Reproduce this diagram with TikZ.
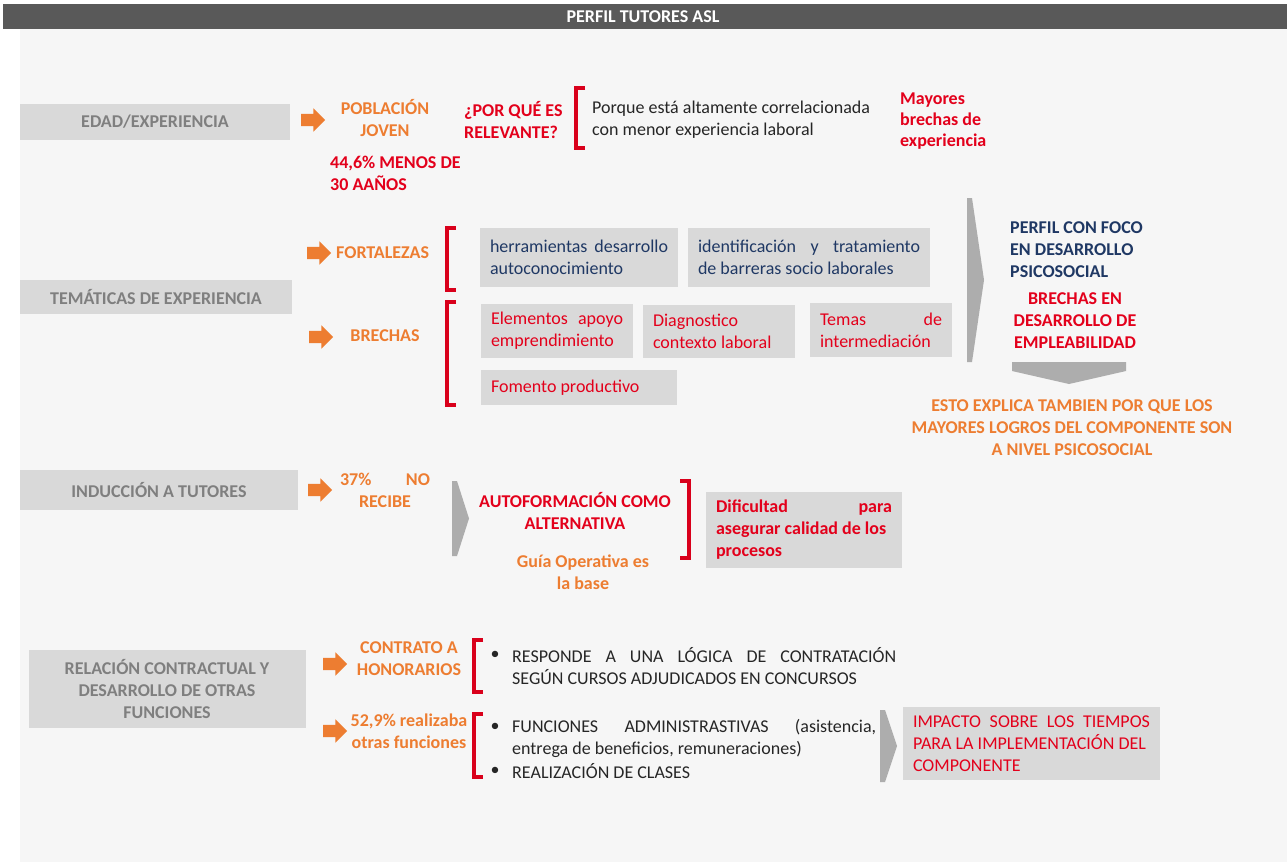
\documentclass[tikz,border=0pt]{standalone}
\usepackage{fontspec}
\setmainfont{Carlito}
\usetikzlibrary{shapes.arrows}

\definecolor{naranja}{HTML}{ED7D31}
\definecolor{rojo}{HTML}{E3001B}
\definecolor{rojoc}{HTML}{D9001B}
\definecolor{azul}{HTML}{1F3864}
\definecolor{cajagris}{HTML}{D9D9D9}
\definecolor{textogris}{HTML}{7F7F7F}
\definecolor{puntagris}{HTML}{ADADAD}
\definecolor{fondo}{HTML}{F6F6F6}
\definecolor{barra}{HTML}{595959}
\definecolor{negro}{HTML}{262626}

\newcommand{\tam}{\fontsize{18}{22}\selectfont}
% punta gris hacia la derecha
\newcommand{\punta}[3]{\fill[puntagris] (#1,#2) -- ({#1+5},#2) -- ({#1+17},{(#2+#3)/2}) -- ({#1+5},#3) -- (#1,#3) -- cycle;}
% corchetes rojos
\newcommand{\corcheteizq}[3]{\draw[corchete] ({#1+9},#2) -- (#1,#2) -- (#1,#3) -- ({#1+9},#3);}
\newcommand{\corcheteder}[3]{\draw[corchete] ({#1-9},#2) -- (#1,#2) -- (#1,#3) -- ({#1-9},#3);}

\tikzset{
  etiqueta/.style={fill=cajagris, text=textogris, font=\tam\bfseries, align=center, inner sep=0pt},
  flecha/.style={single arrow, fill=naranja, inner xsep=0pt, inner ysep=6pt, minimum height=24pt, single arrow head extend=5.5pt},
  naranjab/.style={text=naranja, font=\tam\bfseries, align=center, inner sep=0pt},
  rojob/.style={text=rojo, font=\tam\bfseries, align=center, inner sep=0pt},
  azulb/.style={text=azul, font=\tam\bfseries, inner sep=0pt},
  texto/.style={text=negro, font=\tam, inner sep=0pt},
  caja/.style={fill=cajagris, font=\tam, align=justify, inner xsep=10pt, inner ysep=0pt},
  corchete/.style={draw=rojoc, line width=4pt},
}

\begin{document}
\begin{tikzpicture}[x=1pt,y=-1pt]
\useasboundingbox (0,0) rectangle (1287,862);

% fondo y barra de titulo
\fill[fondo] (20,29) rectangle (1287,862);
\fill[barra] (3,4) rectangle (1287,29);
\node[text=white, font=\fontsize{18}{20}\selectfont\bfseries] (titulo) at (643,17) {PERFIL TUTORES ASL};

% Edad / experiencia
\node[etiqueta, minimum width=270pt, minimum height=36pt] (edad) at (155,122) {EDAD/EXPERIENCIA};
\node[flecha] (f1) at (310,120) {};
\node[naranjab] (poblacion) at (385,118) {POBLACIÓN\\JOVEN};
\node[rojob, anchor=west, align=left] (menos) at (330,173) {44,6\% MENOS DE\\30 AAÑOS};
\node[rojob, anchor=west, align=left] (porque) at (464,120) {¿POR QUÉ ES\\RELEVANTE?};
\corcheteizq{576}{88}{148}
\node[texto, anchor=west, align=left] (correl) at (592,120) {Porque está altamente correlacionada\\con menor experiencia laboral};
\node[rojob, anchor=west, align=left, font=\fontsize{18}{21}\selectfont\bfseries] (mayores) at (900,121) {Mayores\\brechas de\\experiencia};

% Tematicas de experiencia
\node[etiqueta, minimum width=272pt, minimum height=34pt] (tematicas) at (156,297) {TEMÁTICAS DE EXPERIENCIA};
\node[flecha] (f2) at (316,253) {};
\node[naranjab, anchor=west] (fortalezas) at (336,253) {FORTALEZAS};
\node[flecha] (f3) at (318,337) {};
\node[naranjab] (brechas) at (385,336) {BRECHAS};
\corcheteizq{447}{228}{290}
\corcheteizq{447}{302}{405}
\node[caja, text=azul, text width=178pt, minimum height=59pt] (herram) at (579,257.5) {herramientas desarrollo\linebreak autoconocimiento};
\node[caja, text=azul, text width=222pt, minimum height=59pt] (identif) at (809,257.5) {identificación y tratamiento\linebreak de barreras socio laborales};
\node[caja, text=rojo, text width=132pt, minimum height=54pt] (elementos) at (557,331) {Elementos apoyo\linebreak emprendimiento};
\node[caja, text=rojo, text width=132pt, minimum height=53pt] (diagnost) at (719,331.5) {Diagnostico\\contexto laboral};
\node[caja, text=rojo, text width=122pt, minimum height=54pt] (temas) at (881,330) {Temas\hfill de\\intermediación};
\node[caja, text=rojo, text width=176pt, minimum height=35pt] (fomento) at (579,387.5) {Fomento productivo};
\punta{967}{198}{362}
\node[azulb, anchor=west, align=left] (perfil) at (1010,250) {PERFIL CON FOCO\\EN DESARROLLO\\PSICOSOCIAL};
\node[rojob] (brechasen) at (1075,321) {BRECHAS EN\\DESARROLLO DE\\EMPLEABILIDAD};
\fill[puntagris] (1012,362) -- (1126,362) -- (1126,371) -- (1069,384) -- (1012,371) -- cycle;
\node[naranjab] (esto) at (1072,428) {ESTO EXPLICA TAMBIEN POR QUE LOS\\MAYORES LOGROS DEL COMPONENTE SON\\A NIVEL PSICOSOCIAL};

% Induccion a tutores
\node[etiqueta, minimum width=278pt, minimum height=40pt] (induccion) at (159,490) {INDUCCIÓN A TUTORES};
\node[flecha] (f4) at (317,490) {};
\node[naranjab] (norecibe) at (385,490) {\makebox[90pt]{37\%\hfill NO}\\RECIBE};
\punta{452}{481}{556}
\node[rojob] (autof) at (575,511) {AUTOFORMACIÓN COMO\\ALTERNATIVA};
\node[naranjab] (guia) at (583,572) {Guía Operativa es\\la base};
\corcheteder{689}{481}{558}
\node[caja, text=rojo, font=\tam\bfseries, text width=176pt, minimum height=76pt] (dificultad) at (804,530) {Dificultad\hfill para\\asegurar calidad de los\\procesos};

% Relacion contractual
\node[etiqueta, minimum width=277pt, minimum height=78pt] (relacion) at (167,689) {RELACIÓN CONTRACTUAL Y\\DESARROLLO DE OTRAS\\FUNCIONES};
\node[flecha] (f5) at (332,664) {};
\node[flecha] (f6) at (332,731) {};
\node[naranjab] (contrato) at (409,659) {CONTRATO A\\HONORARIOS};
\node[naranjab] (realiza) at (409,731) {52,9\% realizaba\\otras funciones};
\corcheteizq{474}{640}{692}
\corcheteizq{474}{714}{777}
\node[texto] (b1) at (495,655) {\textbullet};
\node[texto, anchor=west, text width=384pt, align=justify] (responde) at (512,666) {RESPONDE A UNA LÓGICA DE CONTRATACIÓN\linebreak SEGÚN CURSOS ADJUDICADOS EN CONCURSOS};
\node[texto] (b2) at (495,727) {\textbullet};
\node[texto, anchor=west, text width=364pt, align=justify] (funciones) at (512,738) {FUNCIONES ADMINISTRASTIVAS (asistencia,\linebreak entrega de beneficios, remuneraciones)};
\node[texto] (b3) at (495,771) {\textbullet};
\node[texto, anchor=west] (clases) at (512,771) {REALIZACIÓN DE CLASES};
\punta{880}{710}{782}
\node[caja, text=rojo, text width=237pt, minimum height=73pt] (impacto) at (1031.5,743.5) {IMPACTO SOBRE LOS TIEMPOS\linebreak PARA LA IMPLEMENTACIÓN DEL\\COMPONENTE};

\end{tikzpicture}
\end{document}
